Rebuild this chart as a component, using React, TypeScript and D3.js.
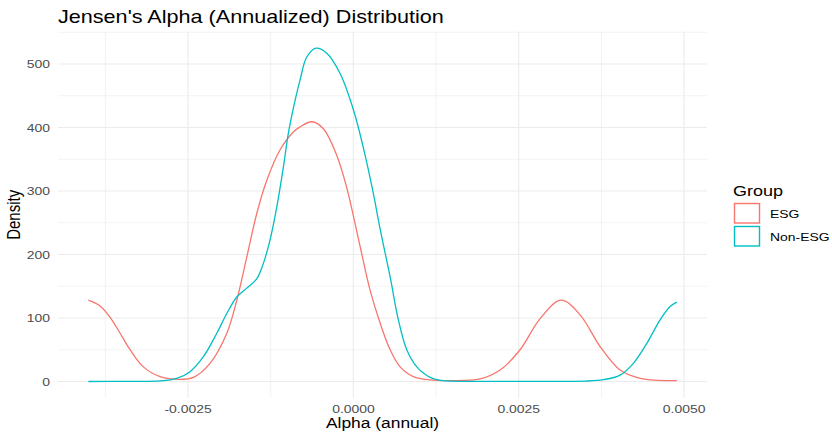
import React from "react";
import * as d3 from "d3";

// Kernel density estimates of annualized Jensen's alpha, per group
const esgAlpha = [
  -0.004007, -0.00383, -0.003678, -0.003527, -0.003376, -0.003175, -0.002922, -0.00262,
  -0.002419, -0.002167, -0.001914, -0.001763, -0.001612, -0.00146, -0.001309, -0.001108,
  -0.000907, -0.000806, -0.000629, -0.000454, -0.000251, -0.0001, 0.000101, 0.000252,
  0.000404, 0.000555, 0.000706, 0.000907, 0.00116, 0.001462, 0.001915, 0.002218, 0.00252,
  0.002823, 0.00314, 0.003427, 0.00373, 0.004032, 0.004335, 0.00489,
];
const esgDensity = [
  128, 119, 101, 76, 50, 23, 7.6, 3.4,
  6.6, 28.6, 76, 128, 196, 265, 317, 365,
  393, 401, 409, 398, 356, 305, 213, 144,
  92, 50, 23, 7.6, 2.4, 1.3, 4, 18, 50,
  99, 128, 105, 55, 18, 5, 1.3,
];

const nonEsgAlpha = [
  -0.004007, -0.0034, -0.002922, -0.00267, -0.002469, -0.002268, -0.002065, -0.001914,
  -0.001763, -0.001612, -0.00146, -0.001361, -0.00126, -0.001158, -0.001058, -0.000983,
  -0.000881, -0.000806, -0.000705, -0.000564, -0.000402, -0.000201, 0, 0.000151,
  0.00029, 0.000404, 0.000555, 0.00068, 0.000807, 0.000959, 0.00116, 0.001361, 0.001814,
  0.0028, 0.0035, 0.00378, 0.004032, 0.004233, 0.004436, 0.004637, 0.004788, 0.00489,
];
const nonEsgDensity = [
  0, 0.2, 1, 5, 15.5, 39, 76, 107,
  133, 147, 162, 186, 223, 275, 338, 391,
  443, 475, 511, 525, 517, 485, 428, 368,
  302, 240, 165, 97, 50, 23, 6.6, 1.3, 0.3,
  0.2, 0.6, 2.8, 10, 28.6, 60, 97, 118, 125,
];

const groups = ["ESG", "Non-ESG"];
const groupColors = ["#F8766D", "#00BFC4"];

const xMajorTicks = [-0.0025, 0, 0.0025, 0.005];
const xTickLabels = ["-0.0025", "0.0000", "0.0025", "0.0050"];
const xMinorTicks = [-0.00375, -0.00125, 0.00125, 0.00375];
const yMajorTicks = [0, 100, 200, 300, 400, 500];
const yMinorTicks = [50, 150, 250, 350, 450, 550];

const W = 832;
const H = 434;
const panel = { left: 58, right: 707, top: 31.6, bottom: 398 };
const SX = 1.2; // horizontal glyph stretch
const FONT = "'Liberation Sans', Arial, Helvetica, sans-serif";

function StretchText(props: {
  x: number;
  y: number;
  size: number;
  anchor?: string;
  fill?: string;
  rotate?: number;
  children: React.ReactNode;
}) {
  const { x, y, size, anchor = "start", fill = "#000", rotate = 0, children } = props;
  return (
    <g transform={`translate(${x},${y}) scale(${SX},1) rotate(${rotate})`}>
      <text x={0} y={0} fontSize={size} fontFamily={FONT} textAnchor={anchor} fill={fill}>
        {children}
      </text>
    </g>
  );
}

export default function App() {
  const x = d3.scaleLinear().domain([-0.004466, 0.005346]).range([panel.left, panel.right]);
  const y = d3.scaleLinear().domain([-26, 551]).range([panel.bottom, panel.top]);

  const series = [
    { name: groups[0], color: groupColors[0], xs: esgAlpha, ys: esgDensity },
    { name: groups[1], color: groupColors[1], xs: nonEsgAlpha, ys: nonEsgDensity },
  ];

  const line = d3
    .line<[number, number]>()
    .x((d) => x(d[0]))
    .y((d) => Math.min(y(d[1]), y(0)))
    .curve(d3.curveCatmullRom.alpha(0.5));

  const grid = "#EBEBEB";

  return (
    <svg
      width={W}
      height={H}
      style={{ position: "absolute", left: 0, top: 0, background: "#fff" }}
    >
      <rect x={0} y={0} width={W} height={H} fill="#fff" />
      {/* grid */}
      {yMinorTicks.map((t) => (
        <line key={"ym" + t} x1={panel.left} x2={panel.right} y1={y(t)} y2={y(t)} stroke={grid} strokeWidth={0.6} />
      ))}
      {xMinorTicks.map((t) => (
        <line key={"xm" + t} x1={x(t)} x2={x(t)} y1={panel.top} y2={panel.bottom} stroke={grid} strokeWidth={0.6} />
      ))}
      {yMajorTicks.map((t) => (
        <line key={"yM" + t} x1={panel.left} x2={panel.right} y1={y(t)} y2={y(t)} stroke={grid} strokeWidth={1.1} />
      ))}
      {xMajorTicks.map((t) => (
        <line key={"xM" + t} x1={x(t)} x2={x(t)} y1={panel.top} y2={panel.bottom} stroke={grid} strokeWidth={1.1} />
      ))}

      {/* density curves */}
      {series.map((s) => (
        <path
          key={s.name}
          d={line(s.xs.map((v, i) => [v, s.ys[i]] as [number, number])) || ""}
          fill="none"
          stroke={s.color}
          strokeWidth={1.3}
        />
      ))}

      {/* axis labels */}
      {yMajorTicks.map((t) => (
        <StretchText key={"yl" + t} x={50} y={y(t) + 4.2} size={11.6} anchor="end" fill="#4D4D4D">
          {String(t)}
        </StretchText>
      ))}
      {xMajorTicks.map((t, i) => (
        <StretchText key={"xl" + t} x={x(t)} y={413} size={11.6} anchor="middle" fill="#4D4D4D">
          {xTickLabels[i]}
        </StretchText>
      ))}

      <StretchText x={(panel.left + panel.right) / 2} y={427.5} size={14.5} anchor="middle">
        Alpha (annual)
      </StretchText>
      <StretchText x={19.5} y={(panel.top + panel.bottom) / 2} size={15} anchor="middle" rotate={-90}>
        Density
      </StretchText>
      <StretchText x={58} y={22.5} size={18}>
        Jensen's Alpha (Annualized) Distribution
      </StretchText>

      {/* legend */}
      <StretchText x={733} y={196} size={15}>
        Group
      </StretchText>
      {series.map((s, i) => (
        <g key={"lg" + s.name}>
          <rect
            x={734.5}
            y={203.5 + i * 23}
            width={25}
            height={19.5}
            fill="#fff"
            stroke={s.color}
            strokeWidth={1.4}
          />
          <StretchText x={770} y={217.5 + i * 23} size={11.6}>
            {s.name}
          </StretchText>
        </g>
      ))}
    </svg>
  );
}
